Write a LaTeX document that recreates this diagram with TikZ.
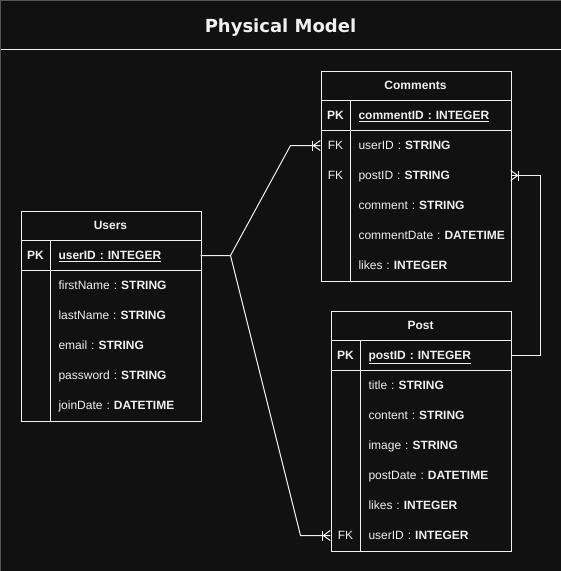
\documentclass[tikz,border=0pt]{standalone}
\usepackage{fontspec}
\setmainfont{Liberation Sans}
\newfontfamily\titlefont{DejaVu Sans}
\definecolor{bg}{HTML}{111111}
\definecolor{fg}{HTML}{F0F0F0}
\definecolor{edge}{HTML}{555555}
\newcommand\fldtxt[2]{\mbox{#1 : \textbf{#2}}}
\newcommand\pktxt[1]{\mbox{\textbf{\underline{#1}}}}
\hfuzz=20pt
\frenchspacing
\begin{document}
\frenchspacing
\begin{tikzpicture}[x=1pt,y=-1pt,
  ln/.style={draw=fg,line width=1pt},
  tbl/.style={ln,anchor=north west,inner sep=0pt},
  txt/.style={text=fg,font=\fontsize{12pt}{14pt}\selectfont\frenchspacing,text height=8.6pt,text depth=0pt,inner sep=0pt},
  hdr/.style={txt,font=\fontsize{12pt}{14pt}\selectfont\bfseries},
  kcell/.style={txt,minimum width=30pt,minimum height=30pt},
  kbold/.style={kcell,font=\fontsize{12pt}{14pt}\selectfont\bfseries},
  fcell/.style={txt,minimum height=30pt,text width=#1pt-16pt,inner xsep=8pt,align=left},
  crow/.pic={\draw[ln] (-8,-5) -- (-8,5); \draw[ln] (-7,0) -- (0,-5) (-7,0) -- (0,5);}
]
\useasboundingbox (0,0) rectangle (561,571);
\fill[bg] (0,0) rectangle (561,571);
\begin{scope}[shift={(0.5,0.5)}]
\draw[edge,line width=1pt] (0,571) -- (0,0) -- (561,0);
\draw[ln] (0,49) -- (561,49);
\node[text=fg,font=\titlefont\fontsize{18pt}{20pt}\selectfont\bfseries,anchor=base] (title) at (280,31.5) {Physical Model};

% ---------------- Users ----------------
\node[tbl,minimum width=180pt,minimum height=210pt] (users) at (20,210) {};
\draw[ln] (20,240) -- (200,240) (20,270) -- (200,270) (50,240) -- (50,420);
\node[hdr] (usersT) at (110,225) {Users};
\node[kbold] (uPKk) at (35,255) {PK};
\node[fcell=150] (uPK) at (125,255) {\pktxt{userID : INTEGER}};
\node[fcell=150] (uFn) at (125,285) {\fldtxt{firstName}{STRING}};
\node[fcell=150] (uLn) at (125,315) {\fldtxt{lastName}{STRING}};
\node[fcell=150] (uEm) at (125,345) {\fldtxt{email}{STRING}};
\node[fcell=150] (uPw) at (125,375) {\fldtxt{password}{STRING}};
\node[fcell=150] (uJd) at (125,405) {\fldtxt{joinDate}{DATETIME}};

% ---------------- Comments ----------------
\node[tbl,minimum width=190pt,minimum height=210pt] (comments) at (320,70) {};
\draw[ln] (320,100) -- (510,100) (320,130) -- (510,130) (350,100) -- (350,280);
\node[hdr] (commentsT) at (415,85) {Comments};
\node[kbold] (cPKk) at (335,115) {PK};
\node[fcell=160] (cPK) at (430,115) {\pktxt{commentID : INTEGER}};
\node[kcell] (cUidk) at (335,145) {FK};
\node[fcell=160] (cUid) at (430,145) {\fldtxt{userID}{STRING}};
\node[kcell] (cPidk) at (335,175) {FK};
\node[fcell=160] (cPid) at (430,175) {\fldtxt{postID}{STRING}};
\node[fcell=160] (cCm) at (430,205) {\fldtxt{comment}{STRING}};
\node[fcell=160] (cCd) at (430,235) {\fldtxt{commentDate}{DATETIME}};
\node[fcell=160] (cLk) at (430,265) {\fldtxt{likes}{INTEGER}};

% ---------------- Post ----------------
\node[tbl,minimum width=180pt,minimum height=240pt] (post) at (330,310) {};
\draw[ln] (330,340) -- (510,340) (330,370) -- (510,370) (360,340) -- (360,550);
\node[hdr] (postT) at (420,325) {Post};
\node[kbold] (pPKk) at (345,355) {PK};
\node[fcell=150] (pPK) at (435,355) {\pktxt{postID : INTEGER}};
\node[fcell=150] (pTi) at (435,385) {\fldtxt{title}{STRING}};
\node[fcell=150] (pCo) at (435,415) {\fldtxt{content}{STRING}};
\node[fcell=150] (pIm) at (435,445) {\fldtxt{image}{STRING}};
\node[fcell=150] (pPd) at (435,475) {\fldtxt{postDate}{DATETIME}};
\node[fcell=150] (pLk) at (435,505) {\fldtxt{likes}{INTEGER}};
\node[kcell] (pUidk) at (345,535) {FK};
\node[fcell=150] (pUid) at (435,535) {\fldtxt{userID}{INTEGER}};

% ---------------- Connectors ----------------
\coordinate (j) at (230,255);
\coordinate (b1) at (290,145);
\coordinate (b2) at (300,535);
\coordinate (b3) at (540,355);
\draw[ln] (uPK.east) -- (j) -- (b1) -- (cUidk.west);
\draw[ln] (j) -- (b2) -- (pUidk.west);
\draw[ln] (pPK.east) -- (b3) |- (cPid.east);
\pic at (cUidk.west) {crow};
\pic at (pUidk.west) {crow};
\pic[rotate=180] at (cPid.east) {crow};
\end{scope}
\end{tikzpicture}
\end{document}
